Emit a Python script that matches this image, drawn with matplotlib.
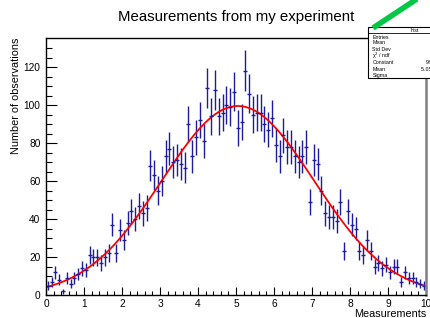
import matplotlib
matplotlib.use("Agg")
import matplotlib.pyplot as plt
import numpy as np
from matplotlib.patches import Rectangle
from matplotlib.lines import Line2D

plt.rcParams['font.family'] = ['Liberation Sans', 'DejaVu Sans']

# histogram: 100 bins from 0 to 10
x_lo = 0.0
x_hi = 10.0
counts = [5, 7, 12, 8, 2, 9, 6, 9, 11, 14,
          13, 21, 20, 20, 17, 20, 22, 37, 22, 34,
          29, 38, 44, 40, 47, 43, 46, 68, 63, 55,
          60, 73, 77, 70, 71, 69, 67, 90, 73, 83,
          92, 81, 109, 94, 108, 94, 96, 100, 99, 107,
          88, 91, 118, 106, 95, 96, 96, 90, 87, 93,
          79, 73, 84, 78, 78, 73, 70, 73, 78, 49,
          71, 69, 55, 43, 41, 41, 39, 49, 23, 44,
          37, 35, 23, 21, 29, 23, 15, 17, 14, 16,
          12, 15, 15, 7, 12, 9, 9, 7, 6, 5]

# gaus fit result
fit_const = 99.5
fit_mean = 5.05
fit_sigma = 2.0

stat_names = ['Entries', 'Mean', 'Std Dev', '\u03c7$^2$ / ndf', 'Constant', 'Mean', 'Sigma']

counts = np.array(counts, dtype=float)
nbins = len(counts)
edges = np.linspace(x_lo, x_hi, nbins + 1)
centers = 0.5 * (edges[:-1] + edges[1:])
errs = np.sqrt(counts)

W, H = 431, 318
fig = plt.figure(figsize=(W / 100, H / 100), dpi=100)
ax = fig.add_axes([46 / W, 1 - 295 / H, 380 / W, 257 / H])

ax.errorbar(centers, counts, yerr=errs, fmt='_', color='#1c1c9c', ms=3,
            mew=1.0, elinewidth=1.0, capsize=0)

xf = np.linspace(x_lo, x_hi, 400)
ax.plot(xf, fit_const * np.exp(-0.5 * ((xf - fit_mean) / fit_sigma) ** 2),
        color='red', lw=1.3)

ax.set_xlim(x_lo, x_hi)
ax.set_ylim(0, 135.3)
ax.set_xticks(np.arange(0, 11, 1))
ax.set_xticks(np.arange(0, 10.01, 0.2), minor=True)
ax.set_yticks(np.arange(0, 121, 20))
ax.set_yticks(np.arange(0, 131, 5), minor=True)
ax.tick_params(direction='in', which='both', labelsize=7.3, width=0.8)
ax.xaxis.set_tick_params(which='major', length=5.5, pad=3)
ax.xaxis.set_tick_params(which='minor', length=2.8)
ax.yaxis.set_tick_params(which='major', length=8, pad=4)
ax.yaxis.set_tick_params(which='minor', length=4)
for s in ['left', 'bottom', 'top']:
    ax.spines[s].set_linewidth(1.0)
ax.spines['right'].set_color('#808080')
ax.spines['right'].set_linewidth(1.8)

ax.set_xlabel('Measurements', fontsize=7.8, loc='right', labelpad=0)
ax.set_ylabel('Number of observations', fontsize=7.8, loc='top', labelpad=1.5)

fig.text(236.5 / W, 1 - 17 / H, 'Measurements from my experiment',
         fontsize=10.8, ha='center', va='center')

# stats box (cut off by the right edge)
bx0, by0, by1 = 368, 27, 78
fig.patches.append(Rectangle((bx0 / W, 1 - by1 / H), 80 / W, (by1 - by0) / H,
                             transform=fig.transFigure, facecolor='white',
                             edgecolor='black', lw=0.8, zorder=5))
fig.lines.append(Line2D([bx0 / W, 1.0], [1 - 33 / H, 1 - 33 / H],
                        transform=fig.transFigure, color='black', lw=0.6, zorder=6))
fig.text(415 / W, 1 - 30 / H, 'hist', fontsize=3.8, ha='center', va='center', zorder=7)
rows_y = [37.3, 42.7, 49.3, 56, 62.7, 69, 75]
for name, yy in zip(stat_names, rows_y):
    fig.text(372.5 / W, 1 - yy / H, name, fontsize=3.8, va='center', zorder=7)
fig.text(426 / W, 1 - 62.7 / H, '99.5 \u00b1 1.8', fontsize=3.8, va='center', zorder=7)
fig.text(421 / W, 1 - 69 / H, '5.05 \u00b1 0.03', fontsize=3.8, va='center', zorder=7)

# green arrow pointing at the box
fig.lines.append(Line2D([373 / W, 432 / W], [1 - 28 / H, 1 + 11 / H],
                        transform=fig.transFigure, color='#00c846', lw=4,
                        solid_capstyle='butt', zorder=8))

fig.savefig('out.png', dpi=100)
